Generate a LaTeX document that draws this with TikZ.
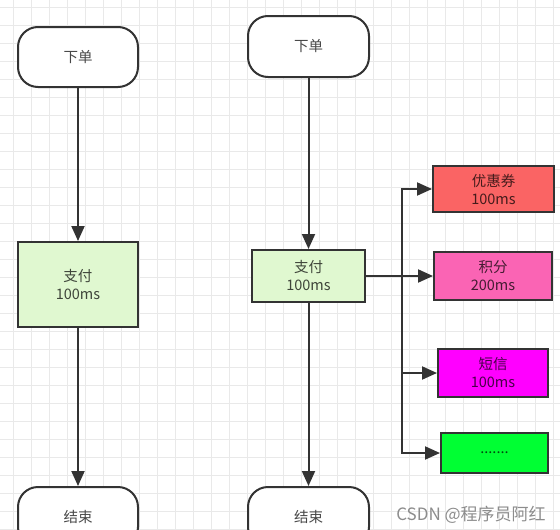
\documentclass[tikz,border=0pt]{standalone}
\usepackage{fontspec}
\newfontfamily\cjk{Noto Sans CJK SC}
\usetikzlibrary{arrows.meta}

\definecolor{linegray}{HTML}{333333}
\definecolor{gridgray}{HTML}{E9E9E9}
\definecolor{paygreen}{HTML}{E0F8D0}
\definecolor{couponred}{HTML}{FA6464}
\definecolor{pointpink}{HTML}{FA64B4}
\definecolor{smsmagenta}{HTML}{FF00FF}
\definecolor{moregreen}{HTML}{00FF33}

\tikzset{
  base/.style={draw=linegray, line width=2pt, align=center,
               font=\cjk\fontsize{14.5}{18}\selectfont,
               text=black, text opacity=0.72, inner sep=0pt},
  terminal/.style={base, fill=white, rounded corners=20pt,
                   minimum width=120pt, minimum height=60pt},
  task/.style={base, minimum width=#1},
  flow/.style={draw=linegray, line width=2pt,
               -{Triangle[length=15pt,width=13pt]}}
}

\begin{document}
\begin{tikzpicture}[x=1pt, y=-1pt]
    \clip (0,0) rectangle (560,530);
    \fill[white] (0,0) rectangle (560,530);

    % background grid
    \foreach \gx in {13,31,...,559}
        \draw[gridgray, line width=0.8pt] (\gx,0) -- (\gx,530);
    \foreach \gy in {7,25,...,529}
        \draw[gridgray, line width=0.8pt] (0,\gy) -- (560,\gy);

    % serial flow
    \node[terminal] (order1) at (78,57) {下单};
    \node[task=120pt, minimum height=85pt, fill=paygreen] (pay1) at (78,284.5) {支付\\100ms};
    \node[terminal] (end1) at (78,517) {结束};
    \draw[flow] (order1) -- (pay1);
    \draw[flow] (pay1) -- (end1);

    % parallel flow
    \node[terminal, minimum width=121pt, minimum height=61pt] (order2) at (308.5,46.5) {下单};
    \node[task=113pt, minimum height=52pt, fill=paygreen] (pay2) at (308.5,276) {支付\\100ms};
    \node[terminal, minimum width=121pt] (end2) at (308.5,517) {结束};
    \draw[flow] (order2) -- (pay2);
    \draw[flow] (pay2) -- (end2);

    \node[task=121pt, minimum height=46pt, fill=couponred] (coupon) at (493.5,189) {优惠券\\100ms};
    \node[task=118pt, minimum height=48pt, fill=pointpink] (points) at (493,276) {积分\\200ms};
    \node[task=110pt, minimum height=48pt, fill=smsmagenta] (sms) at (493,373) {短信\\100ms};
    \node[task=107pt, minimum height=40pt, fill=moregreen] (more) at (494.5,453) {.......};

    \coordinate (fork) at (402,276);
    \draw[flow] (pay2) -- (points);
    \draw[flow] (fork) |- (coupon);
    \draw[flow] (fork) |- (sms);
    \draw[flow] (fork) |- (more);

    \node[font=\cjk\fontsize{17}{19}\selectfont, text=black!45, anchor=center] (mark) at (471,515) {CSDN @程序员阿红};
\end{tikzpicture}
\end{document}
